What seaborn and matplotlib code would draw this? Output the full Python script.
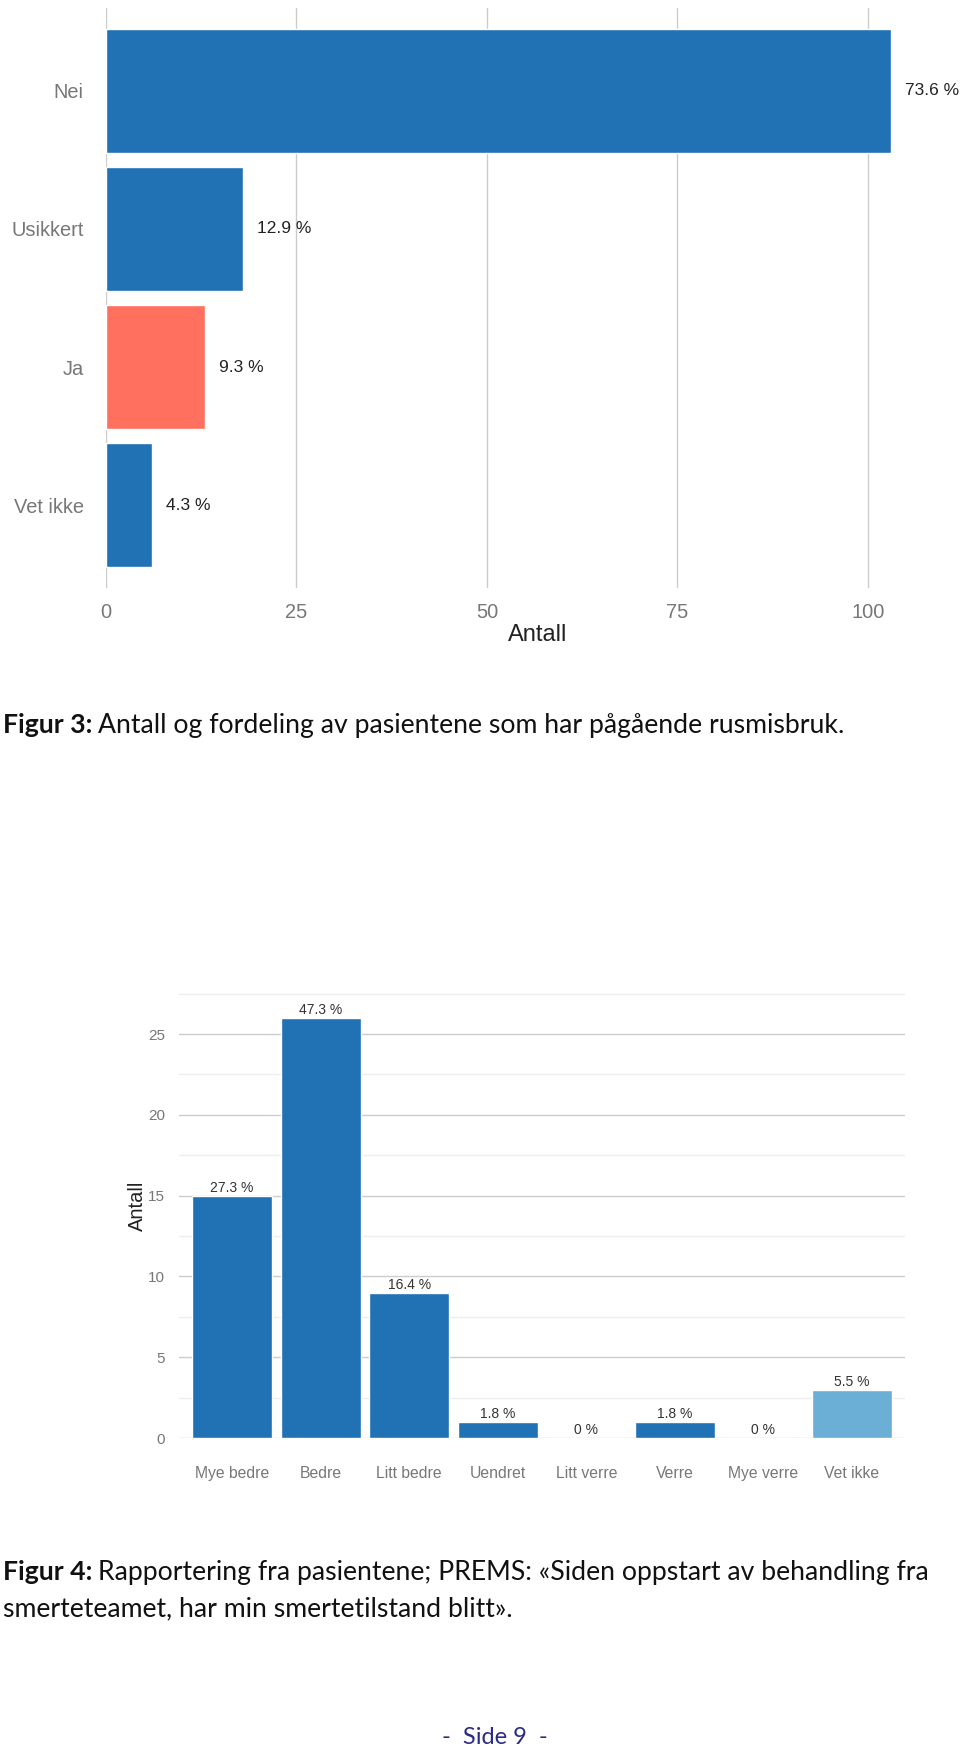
import numpy as np
import pandas as pd
import matplotlib
matplotlib.use("Agg")
import matplotlib.pyplot as plt
import seaborn as sns

# ---------------- data ----------------
cats1 = ["Nei", "Usikkert", "Ja", "Vet ikke"]
counts1 = [103, 18, 13, 6]
pct1 = [73.6, 12.9, 9.3, 4.3]
colors1 = ["#2171b5", "#2171b5", "#ff705e", "#2171b5"]
xticks1 = [0, 25, 50, 75, 100]

cats2 = ["Mye bedre", "Bedre", "Litt bedre", "Uendret", "Litt verre", "Verre", "Mye verre", "Vet ikke"]
counts2 = [15, 26, 9, 1, 0, 1, 0, 3]
pct2 = [27.3, 47.3, 16.4, 1.8, 0, 1.8, 0, 5.5]
colors2 = ["#2171b5"] * 7 + ["#6baed6"]
yticks2 = [0, 5, 10, 15, 20, 25]

caption3_bold = "Figur 3:"
caption3_text = "Antall og fordeling av pasientene som har pågående rusmisbruk."
caption4_bold = "Figur 4:"
caption4_line1 = "Rapportering fra pasientene; PREMS: «Siden oppstart av behandling fra"
caption4_line2 = "smerteteamet, har min smertetilstand blitt»."
page_text = "-  Side 9  -"

# ---------------- setup ----------------
sns.set_theme(style="white")
plt.rcParams["font.family"] = ["Liberation Sans", "DejaVu Sans"]

W, H = 960, 1753
fig = plt.figure(figsize=(W / 100, H / 100), dpi=100)
fig.patch.set_facecolor("white")


def ax_rect(left, top, right, bottom):
    return [left / W, 1 - bottom / H, (right - left) / W, (bottom - top) / H]


# ---------------- chart 1 (horizontal) ----------------
ax1 = fig.add_axes(ax_rect(106, 8, 944, 588))
df1 = pd.DataFrame({"cat": cats1, "n": counts1})
sns.barplot(data=df1, y="cat", x="n", hue="cat", palette=colors1, orient="h",
            width=0.9, saturation=1, legend=False, ax=ax1)
ax1.set_xlim(0, 110)
ax1.set_ylim(3.6, -0.6)
ax1.set_xticks(xticks1)
ax1.xaxis.grid(True, color="#cccccc", lw=1)
ax1.yaxis.grid(False)
ax1.set_axisbelow(True)
for s in ax1.spines.values():
    s.set_visible(False)
ax1.tick_params(axis="x", length=0, labelsize=14.4, labelcolor="#777777", pad=11)
ax1.tick_params(axis="y", length=0, labelsize=14.4, labelcolor="#777777", pad=16)
ax1.set_ylabel("")
ax1.set_xlabel("Antall", fontsize=17, color="#222222")
ax1.xaxis.set_label_coords((538 - 106) / 838, -(635 - 588) / 580)
ax1.xaxis.label.set_va("center")
for i, (n, p) in enumerate(zip(counts1, pct1)):
    ax1.annotate(f"{p:g} %", xy=(n, i), xytext=(10, 0), textcoords="offset points",
                 ha="left", va="center", fontsize=12.5, color="#222222",
                 annotation_clip=False)

# ---------------- chart 2 (vertical) ----------------
ax2 = fig.add_axes(ax_rect(179, 992, 905, 1438))
df2 = pd.DataFrame({"cat": cats2, "n": counts2})
sns.barplot(data=df2, x="cat", y="n", hue="cat", palette=colors2,
            width=0.9, saturation=1, legend=False, ax=ax2)
ax2.set_xlim(-0.6, 7.6)
ax2.set_ylim(0, 27.6)
ax2.set_yticks(yticks2)
ax2.set_yticks([2.5, 7.5, 12.5, 17.5, 22.5, 27.5], minor=True)
ax2.yaxis.grid(True, which="major", color="#cccccc", lw=1)
ax2.yaxis.grid(True, which="minor", color="#eeeeee", lw=1)
ax2.xaxis.grid(False)
ax2.set_axisbelow(True)
for s in ax2.spines.values():
    s.set_visible(False)
ax2.tick_params(axis="y", which="both", length=0, labelsize=11, labelcolor="#777777", pad=10)
ax2.tick_params(axis="x", length=0, labelsize=11.3, labelcolor="#777777", pad=20)
ax2.set_xlabel("")
ax2.set_ylabel("Antall", fontsize=14.5, color="#222222")
ax2.yaxis.set_label_coords((137 - 179) / 726, (1438 - 1206) / 446)
ax2.yaxis.label.set_va("center")
for i, (n, p) in enumerate(zip(counts2, pct2)):
    ax2.annotate(f"{p:g} %", xy=(i, n), xytext=(0, 0.5), textcoords="offset points",
                 ha="center", va="bottom", fontsize=10, color="#333333",
                 annotation_clip=False)

# ---------------- captions ----------------
cap_family = ["Lato", "DejaVu Sans"]
cap_size = 19.2
renderer = fig.canvas.get_renderer()


def caption(bold, rest, x_px, y_px):
    t = fig.text(x_px / W, 1 - y_px / H, bold, fontsize=cap_size, fontweight="bold",
                 family=cap_family, color="#111111", va="baseline", ha="left")
    bb = t.get_window_extent(renderer=renderer)
    fig.text((bb.x1 + 6) / W, 1 - y_px / H, rest, fontsize=cap_size,
             family=cap_family, color="#111111", va="baseline", ha="left")


caption(caption3_bold, caption3_text, 3, 733)
caption(caption4_bold, caption4_line1, 3, 1580)
fig.text(3 / W, 1 - 1616 / H, caption4_line2, fontsize=cap_size, family=cap_family,
         color="#111111", va="baseline", ha="left")
fig.text(495 / W, 1 - 1738 / H, page_text, fontsize=17, family=cap_family,
         color="#2b2b86", va="center", ha="center")

fig.savefig("out.png", dpi=100, facecolor="white")
